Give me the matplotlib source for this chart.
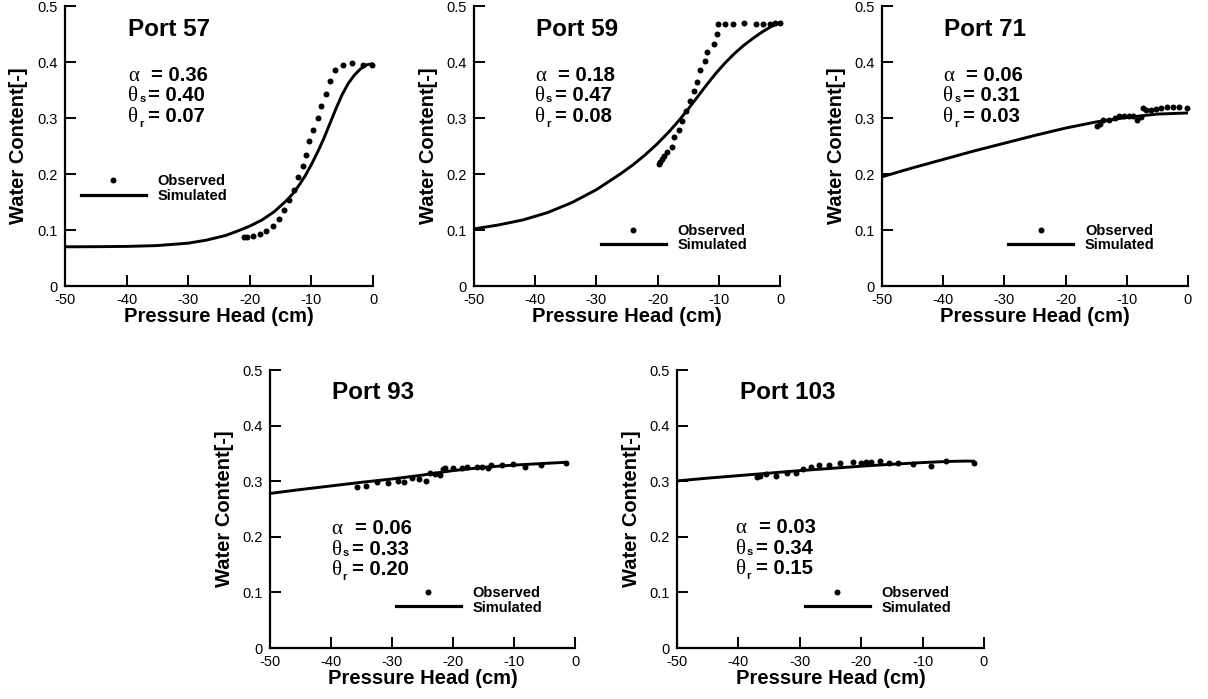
import matplotlib
matplotlib.use("Agg")
import matplotlib.pyplot as plt
from matplotlib.lines import Line2D
from matplotlib.transforms import offset_copy

plt.rcParams["font.family"] = ["Liberation Sans", "DejaVu Sans"]

# ---------------- data ----------------
ports = ["Port 57", "Port 59", "Port 71", "Port 93", "Port 103"]

alpha_vals = ["0.36", "0.18", "0.06", "0.06", "0.03"]
theta_s_vals = ["0.40", "0.47", "0.31", "0.33", "0.34"]
theta_r_vals = ["0.07", "0.08", "0.03", "0.20", "0.15"]

# Port 57
p57_obs_h = [-21.0, -20.4, -19.4, -18.4, -17.4, -16.3, -15.2, -14.4, -13.7, -12.9,
             -12.2, -11.4, -10.9, -10.4, -9.7, -9.0, -8.4, -7.7, -7.0, -6.2,
             -4.9, -3.4, -1.6, -0.2]
p57_obs_w = [0.087, 0.087, 0.090, 0.093, 0.099, 0.107, 0.120, 0.136, 0.154, 0.171,
             0.194, 0.214, 0.234, 0.259, 0.279, 0.300, 0.322, 0.343, 0.366, 0.385,
             0.395, 0.398, 0.395, 0.395]
p57_sim_h = [-50, -45, -40, -35, -30, -27, -24, -22, -20, -18, -16, -14, -13, -12,
             -11, -10, -9, -8, -7, -6, -5, -4, -3, -2, -1, 0]
p57_sim_w = [0.070, 0.0702, 0.0707, 0.0722, 0.0765, 0.082, 0.090, 0.098, 0.107,
             0.118, 0.133, 0.153, 0.165, 0.180, 0.197, 0.217, 0.239, 0.263, 0.290,
             0.317, 0.342, 0.362, 0.377, 0.388, 0.395, 0.397]

# Port 59
p59_obs_h = [-19.8, -19.6, -19.3, -18.9, -18.4, -17.7, -17.3, -16.5, -16.0, -15.3,
             -14.7, -14.1, -13.5, -13.1, -12.3, -11.9, -10.8, -10.3, -10.2, -9.0,
             -7.6, -5.9, -4.0, -2.7, -1.6, -0.8, 0.0]
p59_obs_w = [0.218, 0.222, 0.227, 0.233, 0.239, 0.249, 0.266, 0.279, 0.294, 0.312,
             0.330, 0.348, 0.365, 0.385, 0.401, 0.418, 0.433, 0.450, 0.467, 0.468,
             0.468, 0.469, 0.468, 0.467, 0.468, 0.469, 0.470]
p59_sim_h = [-50, -46, -42, -38, -34, -30, -26.1, -24, -22, -20, -18, -16.4, -15,
             -13.5, -12, -10.5, -9, -7.5, -6, -4.5, -3, -1.5, 0]
p59_sim_w = [0.102, 0.109, 0.118, 0.131, 0.149, 0.172, 0.200, 0.2165, 0.2345,
             0.2545, 0.277, 0.297, 0.316, 0.3375, 0.359, 0.3795, 0.398, 0.4145,
             0.429, 0.4415, 0.453, 0.463, 0.470]

# Port 71
p71_obs_h = [-14.8, -14.4, -13.9, -12.9, -12.0, -11.2, -10.4, -9.6, -9.0, -8.3,
             -7.6, -7.4, -6.8, -6.0, -5.3, -4.4, -3.5, -2.5, -1.4, -0.2]
p71_obs_w = [0.285, 0.290, 0.297, 0.296, 0.300, 0.303, 0.304, 0.304, 0.303, 0.297,
             0.301, 0.318, 0.315, 0.315, 0.316, 0.318, 0.319, 0.319, 0.320, 0.318]
p71_sim_h = [-50, -45, -40, -35, -30, -25, -20, -15, -10, -7.5, -5, -2.5, 0]
p71_sim_w = [0.195, 0.211, 0.226, 0.241, 0.255, 0.269, 0.282, 0.293, 0.301, 0.304,
             0.307, 0.308, 0.309]

# Port 93
p93_obs_h = [-35.8, -34.3, -32.4, -30.7, -29.0, -28.0, -26.8, -25.5, -24.5, -23.8,
             -23.0, -22.1, -21.6, -21.3, -20.0, -18.6, -17.7, -16.1, -15.3, -14.3,
             -13.7, -12.0, -10.2, -8.2, -5.5, -1.4]
p93_obs_w = [0.290, 0.2915, 0.298, 0.2975, 0.300, 0.2985, 0.3065, 0.3035, 0.3005,
             0.3143, 0.3131, 0.3113, 0.3215, 0.3233, 0.3233, 0.3233, 0.325, 0.326,
             0.325, 0.3245, 0.3287, 0.3287, 0.331, 0.325, 0.3287, 0.3323]
p93_sim_h = [-50, -45, -40, -35, -30, -25, -22, -20, -15, -10, -5, -1.5]
p93_sim_w = [0.278, 0.285, 0.2915, 0.298, 0.304, 0.311, 0.316, 0.319, 0.325, 0.329,
             0.332, 0.334]

# Port 103
p103_obs_h = [-37.0, -36.5, -35.5, -33.9, -32.1, -30.7, -29.5, -28.1, -26.9, -25.2,
              -23.4, -21.3, -20.0, -19.2, -18.4, -17.0, -15.4, -14.0, -11.6, -8.7,
              -6.2, -1.7]
p103_obs_w = [0.3071, 0.310, 0.3125, 0.310, 0.3155, 0.3155, 0.3215, 0.325, 0.3293,
              0.3293, 0.3323, 0.3353, 0.3335, 0.3353, 0.3353, 0.337, 0.3335, 0.3323,
              0.331, 0.3275, 0.337, 0.3323]
p103_sim_h = [-50, -45, -40, -35, -30, -25, -20, -15, -10, -6, -3, -1.5]
p103_sim_w = [0.3005, 0.3055, 0.310, 0.3145, 0.319, 0.323, 0.327, 0.3305, 0.3335,
              0.3355, 0.3362, 0.336]

x_ticks = [-50, -40, -30, -20, -10, 0]
x_tick_labels = ["-50", "-40", "-30", "-20", "-10", "0"]
y_ticks = [0, 0.1, 0.2, 0.3, 0.4, 0.5]
y_tick_labels = ["0", "0.1", "0.2", "0.3", "0.4", "0.5"]

observed_h = [p57_obs_h, p59_obs_h, p71_obs_h, p93_obs_h, p103_obs_h]
observed_w = [p57_obs_w, p59_obs_w, p71_obs_w, p93_obs_w, p103_obs_w]
simulated_h = [p57_sim_h, p59_sim_h, p71_sim_h, p93_sim_h, p103_sim_h]
simulated_w = [p57_sim_w, p59_sim_w, p71_sim_w, p93_sim_w, p103_sim_w]

# ---------------- layout ----------------
W, H = 1208, 699
fig = plt.figure(figsize=(W / 100, H / 100), dpi=100)

axes_rects = [
    [65 / W, 413 / H, 308 / W, 280 / H],
    [474 / W, 413 / H, 306 / W, 280 / H],
    [882 / W, 413 / H, 306 / W, 280 / H],
    [270 / W, 51 / H, 305 / W, 278 / H],
    [677 / W, 51 / H, 307 / W, 278 / H],
]
# parameter block anchor (left, baseline of first row) in axes fraction
param_anchor = [(0.2055, 0.733), (0.199, 0.733), (0.2003, 0.733),
                (0.202, 0.410), (0.191, 0.412)]
# legend anchor (left, vertical centre) in axes fraction
legend_anchor = [(0.052, 0.349), (0.414, 0.171), (0.413, 0.171),
                 (0.413, 0.172), (0.417, 0.172)]

greek_font = dict(family=["Liberation Serif", "DejaVu Serif"], size=15)
value_font = dict(family=["Liberation Sans", "DejaVu Sans"], size=14.6, weight="bold")
sub_font = dict(family=["Liberation Sans", "DejaVu Sans"], size=8, weight="bold")


def draw_params(ax, x0, y0, a, ts, tr):
    rows = [("\u03b1", None, a, 23, 0), ("\u03b8", "s", ts, 20, -1),
            ("\u03b8", "r", tr, 20, -5)]
    for i, (sym, sub, val, eq_dx, sub_dy) in enumerate(rows):
        base = offset_copy(ax.transAxes, fig=fig, x=0, y=-20.5 * i, units="dots")
        ax.text(x0, y0, sym, transform=base, va="baseline", ha="left", **greek_font)
        if sub:
            st = offset_copy(ax.transAxes, fig=fig, x=11, y=-20.5 * i + sub_dy,
                             units="dots")
            ax.text(x0, y0, sub, transform=st, va="baseline", ha="left", **sub_font)
        vt = offset_copy(ax.transAxes, fig=fig, x=eq_dx, y=-20.5 * i, units="dots")
        ax.text(x0, y0, "= " + val, transform=vt, va="baseline", ha="left",
                **value_font)


for k in range(5):
    ax = fig.add_axes(axes_rects[k])
    ax.plot(simulated_h[k], simulated_w[k], color="black", lw=2.1,
            solid_capstyle="butt", solid_joinstyle="round", zorder=2)
    ax.plot(observed_h[k], observed_w[k], "o", color="black", ms=4.3,
            mec="none", clip_on=False, zorder=3)

    ax.set_xlim(-50, 0)
    ax.set_ylim(0, 0.5)
    for side in ("top", "right"):
        ax.spines[side].set_visible(False)
    for side in ("left", "bottom"):
        ax.spines[side].set_linewidth(1.6)
    ax.set_xticks(x_ticks)
    ax.set_xticklabels(x_tick_labels)
    ax.set_yticks(y_ticks)
    ax.set_yticklabels(y_tick_labels)
    ax.tick_params(direction="in", length=8, width=1.4, labelsize=10.5, pad=5,
                   colors="black")

    ax.set_xlabel("Pressure Head (cm)", fontsize=14.5, fontweight="bold",
                  va="center")
    ax.xaxis.set_label_coords(0.5, -31 / 280)
    ax.set_ylabel("Water Content[-]", fontsize=14.5, fontweight="bold",
                  va="center")
    ax.yaxis.set_label_coords(-46 / 308, 0.5)

    ax.text(0.204, 0.894, ports[k], transform=ax.transAxes, fontsize=17.5,
            fontweight="bold", ha="left", va="baseline")

    draw_params(ax, *param_anchor[k], alpha_vals[k], theta_s_vals[k],
                theta_r_vals[k])

    handles = [Line2D([], [], ls="none", marker="o", color="black", ms=4.3,
                      mec="none"),
               Line2D([], [], color="black", lw=2.3)]
    ax.legend(handles, ["Observed", "Simulated"], loc="center left",
              bbox_to_anchor=legend_anchor[k], frameon=False,
              prop=dict(family="Liberation Sans", weight="bold", size=10.5),
              handlelength=4.45, handletextpad=0.8, labelspacing=0.05,
              borderpad=0, borderaxespad=0)

fig.savefig("out.png", dpi=100)
